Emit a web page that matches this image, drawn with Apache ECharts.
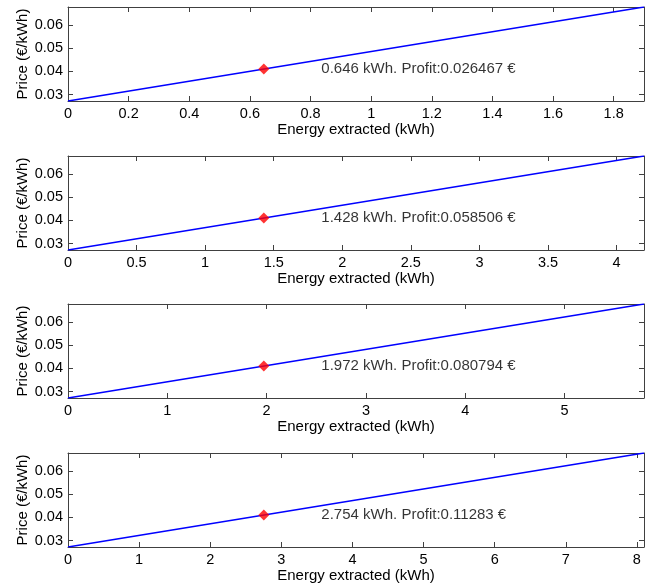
<!DOCTYPE html>
<html>
<head>
<meta charset="utf-8">
<script src="https://cdn.jsdelivr.net/npm/echarts@6/dist/echarts.min.js"></script>
<style>
html,body{margin:0;padding:0;background:#fff;}
#chart{width:657px;height:585px;}
</style>
</head>
<body>
<div id="chart"></div>
<script>
// ---- data ----
const optimalEnergy = [0.646, 1.428, 1.972, 2.754];   // kWh, red markers
const optimalPrice  = [0.041, 0.041, 0.041, 0.041];   // €/kWh at markers
const profitText    = ['0.026467', '0.058506', '0.080794', '0.11283'];
const energyMax     = [1.9, 4.2, 5.8, 8.1];           // end of each price line (kWh)
const priceStart    = [0.0272, 0.0272, 0.0272, 0.0272]; // price at 0 kWh
const priceEnd      = [0.0677, 0.0677, 0.0677, 0.0677]; // price at energyMax
const xTicks = [
  [0, 0.2, 0.4, 0.6, 0.8, 1, 1.2, 1.4, 1.6, 1.8],
  [0, 0.5, 1, 1.5, 2, 2.5, 3, 3.5, 4],
  [0, 1, 2, 3, 4, 5],
  [0, 1, 2, 3, 4, 5, 6, 7, 8]
];
const yTicks = [0.03, 0.04, 0.05, 0.06];
const xName = 'Energy extracted (kWh)';
const yName = 'Price (€/kWh)';

// ---- layout / style ----
const gridTops = [7, 156, 304, 453];
const FONT = 'Liberation Sans, Arial, sans-serif';
const frame = '#404040';
const chart = echarts.init(document.getElementById('chart'));

const grids = [], xAxes = [], yAxes = [], series = [];
for (let i = 0; i < 4; i++) {
  grids.push({left: 68, width: 576, top: gridTops[i], height: 94, containLabel: false});
  const xmin = 0, xmax = energyMax[i];
  const ymin = Math.min(priceStart[i], priceEnd[i]), ymax = Math.max(priceStart[i], priceEnd[i]);
  const commonX = {
    type: 'value', gridIndex: i, min: xmin, max: xmax,
    axisLine: {show: true, onZero: false, lineStyle: {color: frame, width: 1}},
    axisTick: {show: true, inside: true, length: 5, lineStyle: {color: frame}, customValues: xTicks[i]},
    splitLine: {show: false}
  };
  xAxes.push(Object.assign({}, commonX, {
    position: 'bottom',
    name: xName, nameLocation: 'middle', nameGap: 21, nameMoveOverlap: false,
    nameTextStyle: {color: '#000', fontSize: 15, fontFamily: FONT},
    axisLabel: {show: true, color: '#000', fontSize: 14.5, fontFamily: FONT, margin: 5,
      customValues: xTicks[i], formatter: v => String(Math.round(v * 10) / 10)}
  }));
  xAxes.push(Object.assign({}, commonX, {position: 'top', axisLabel: {show: false}}));
  const commonY = {
    type: 'value', gridIndex: i, min: ymin, max: ymax,
    axisLine: {show: true, onZero: false, lineStyle: {color: frame, width: 1}},
    axisTick: {show: true, inside: true, length: 5, lineStyle: {color: frame}, customValues: yTicks},
    splitLine: {show: false}
  };
  yAxes.push(Object.assign({}, commonY, {
    position: 'left',
    name: yName, nameLocation: 'middle', nameGap: 38, nameRotate: 90, nameMoveOverlap: false,
    nameTextStyle: {color: '#000', fontSize: 15, fontFamily: FONT},
    axisLabel: {show: true, color: '#000', fontSize: 14.5, fontFamily: FONT, margin: 5,
      customValues: yTicks, formatter: v => v.toFixed(2)}
  }));
  yAxes.push(Object.assign({}, commonY, {position: 'right', axisLabel: {show: false}}));

  series.push({
    type: 'line', xAxisIndex: 2 * i, yAxisIndex: 2 * i,
    data: [[0, priceStart[i]], [energyMax[i], priceEnd[i]]],
    showSymbol: false, symbol: 'none', silent: true, animation: false, z: 2,
    lineStyle: {color: '#0000ff', width: 1.5}
  });
  series.push({
    type: 'scatter', xAxisIndex: 2 * i, yAxisIndex: 2 * i,
    data: [[optimalEnergy[i], optimalPrice[i]]],
    symbol: 'diamond', symbolSize: [11, 11], animation: false, z: 3,
    itemStyle: {color: '#ff0000'},
    label: {
      show: true, position: 'right', distance: 52,
      color: '#000', fontSize: 15, fontFamily: FONT,
      formatter: () => optimalEnergy[i] + ' kWh. Profit:' + profitText[i] + ' €'
    }
  });
}

chart.setOption({
  backgroundColor: '#fff',
  animation: false,
  grid: grids, xAxis: xAxes, yAxis: yAxes, series: series
});
</script>
</body>
</html>
